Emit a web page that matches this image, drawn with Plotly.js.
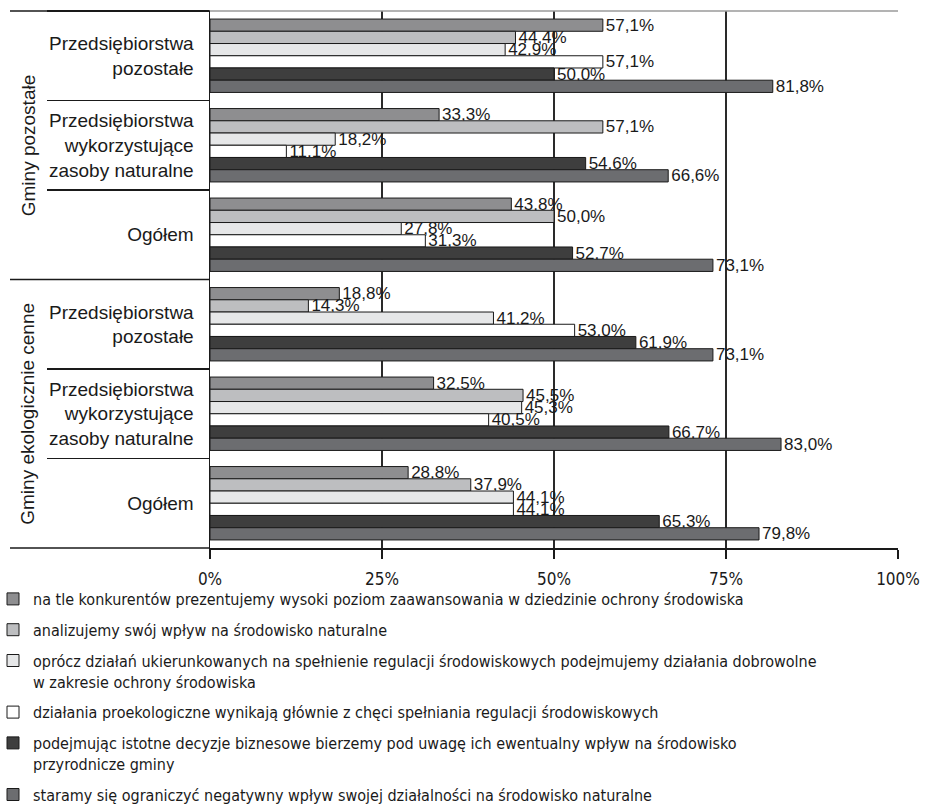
<!DOCTYPE html>
<html>
<head>
<meta charset="utf-8">
<script src="https://cdn.plot.ly/plotly-3.0.1.min.js"></script>
<style>body{margin:0;background:#fff}</style>
</head>
<body>
<div id="chart" style="width:939px;height:811px"></div>
<script>
// Groups (outer level) and company types (inner level), top to bottom
const groups = ['Gminy pozostałe', 'Gminy ekologicznie cenne'];
const companyTypes = ['Przedsiębiorstwa<br>pozostałe', 'Przedsiębiorstwa<br>wykorzystujące<br>zasoby naturalne', 'Ogółem'];

// Series names (legend)
const seriesNames = [
  'na tle konkurentów prezentujemy wysoki poziom zaawansowania w dziedzinie ochrony środowiska',
  'analizujemy swój wpływ na środowisko naturalne',
  'oprócz działań ukierunkowanych na spełnienie regulacji środowiskowych podejmujemy działania dobrowolne<br>w zakresie ochrony środowiska',
  'działania proekologiczne wynikają głównie z chęci spełniania regulacji środowiskowych',
  'podejmując istotne decyzje biznesowe bierzemy pod uwagę ich ewentualny wpływ na środowisko<br>przyrodnicze gminy',
  'staramy się ograniczyć negatywny wpływ swojej działalności na środowisko naturalne'
];

// Values (%), order: GP-pozostałe, GP-wykorzystujące, GP-ogółem, GEC-pozostałe, GEC-wykorzystujące, GEC-ogółem
const naTleKonkurentow = [57.1, 33.3, 43.8, 18.8, 32.5, 28.8];
const analizujemy      = [44.4, 57.1, 50.0, 14.3, 45.5, 37.9];
const oproczDzialan    = [42.9, 18.2, 27.8, 41.2, 45.3, 44.1];
const dzialaniaProeko  = [57.1, 11.1, 31.3, 53.0, 40.5, 44.1];
const podejmujac       = [50.0, 54.6, 52.7, 61.9, 66.7, 65.3];
const staramySie       = [81.8, 66.6, 73.1, 73.1, 83.0, 79.8];

// x-axis ticks
const tickValsX = [0, 25, 50, 75, 100];
const tickTextX = ['0%', '25%', '50%', '75%', '100%'];

const seriesValues = [naTleKonkurentow, analizujemy, oproczDzialan, dzialaniaProeko, podejmujac, staramySie];
const seriesColors = ['#8e8e90', '#bdbec0', '#e6e7e8', '#ffffff', '#3e3e3e', '#6c6d70'];

// unique category keys (zero-width space suffix keeps repeated names distinct)
const yCats = [];
groups.forEach((g, gi) => companyTypes.forEach(c => yCats.push(c + '\u200B'.repeat(gi))));

const traces = seriesValues.map((vals, i) => ({
  type: 'bar',
  orientation: 'h',
  name: seriesNames[i],
  legendgroup: 'g' + i,
  x: vals,
  y: yCats,
  marker: {color: seriesColors[i], line: {color: '#1a1a1a', width: 1}},
  texttemplate: '%{x:.1f}%',
  textposition: 'outside',
  constraintext: 'none',
  cliponaxis: false,
  textfont: {family: 'Liberation Sans, Arial, sans-serif', size: 17, color: '#1a1a1a'},
  hoverinfo: 'x+y+name'
}));

const L = 210, R = 41, T = 11, B = 263;
const W = 939, H = 811;
const plotW = W - L - R;
const plotH = H - T - B;
const px = p => (p - L) / plotW;
const py = p => (H - B - p) / plotH;

const narrow = 'Liberation Sans Narrow, Arial Narrow, DejaVu Sans Condensed, sans-serif';

const layout = {
  width: W, height: H,
  margin: {l: L, r: R, t: T, b: B, pad: 0, autoexpand: false},
  paper_bgcolor: '#fff', plot_bgcolor: '#fff',
  separators: ', ',
  barmode: 'group',
  bargap: 0.18,
  bargroupgap: 0,
  showlegend: true,
  font: {family: 'Liberation Sans, Arial, sans-serif', color: '#1a1a1a'},
  xaxis: {
    range: [0, 100],
    tickmode: 'array', tickvals: tickValsX, ticktext: tickTextX,
    showgrid: true, gridcolor: '#2a2a2a', gridwidth: 1.5,
    zeroline: false,
    showline: true, linecolor: '#1a1a1a', linewidth: 1.5,
    ticks: 'outside', ticklen: 9, tickcolor: '#1a1a1a', tickwidth: 1.5,
    ticklabelstandoff: 6,
    tickfont: {family: narrow, size: 17, color: '#1a1a1a'},
    fixedrange: true
  },
  yaxis: {
    type: 'category',
    autorange: 'reversed',
    tickson: 'boundaries',
    ticks: 'outside', ticklen: 162, tickcolor: '#1a1a1a', tickwidth: 1.5,
    ticklabelstandoff: 11,
    showgrid: false, zeroline: false,
    showline: true, linecolor: '#1a1a1a', linewidth: 1.5,
    tickfont: {family: 'Liberation Sans, Arial, sans-serif', size: 19, color: '#1a1a1a'},
    fixedrange: true
  },
  legend: {
    x: px(-7), xanchor: 'left',
    y: py(582), yanchor: 'top',
    orientation: 'v',
    traceorder: 'grouped',
    tracegroupgap: 7,
    valign: 'top',
    bgcolor: 'rgba(0,0,0,0)',
    font: {family: narrow, size: 16, color: '#1a1a1a'}
  },
  shapes: [
    {type: 'line', xref: 'paper', yref: 'paper', x0: px(10), x1: 0, y0: 1, y1: 1, line: {color: '#1a1a1a', width: 1.5}},
    {type: 'line', xref: 'paper', yref: 'paper', x0: 0, x1: 1, y0: 1, y1: 1, line: {color: '#9a9a9a', width: 1.5}},
    {type: 'line', xref: 'paper', yref: 'paper', x0: px(10), x1: 0, y0: 0.5, y1: 0.5, line: {color: '#1a1a1a', width: 1.5}},
    {type: 'line', xref: 'paper', yref: 'paper', x0: px(10), x1: 0, y0: 0, y1: 0, line: {color: '#1a1a1a', width: 1.5}}
  ],
  annotations: groups.map((g, gi) => ({
    text: g, xref: 'paper', yref: 'paper',
    x: px(28), y: gi === 0 ? 0.75 : 0.25,
    textangle: -90, showarrow: false,
    xanchor: 'center', yanchor: 'middle',
    font: {family: 'Liberation Sans, Arial, sans-serif', size: 19, color: '#1a1a1a'}
  }))
};

Plotly.newPlot('chart', traces, layout, {displayModeBar: false, staticPlot: true});
</script>
</body>
</html>
